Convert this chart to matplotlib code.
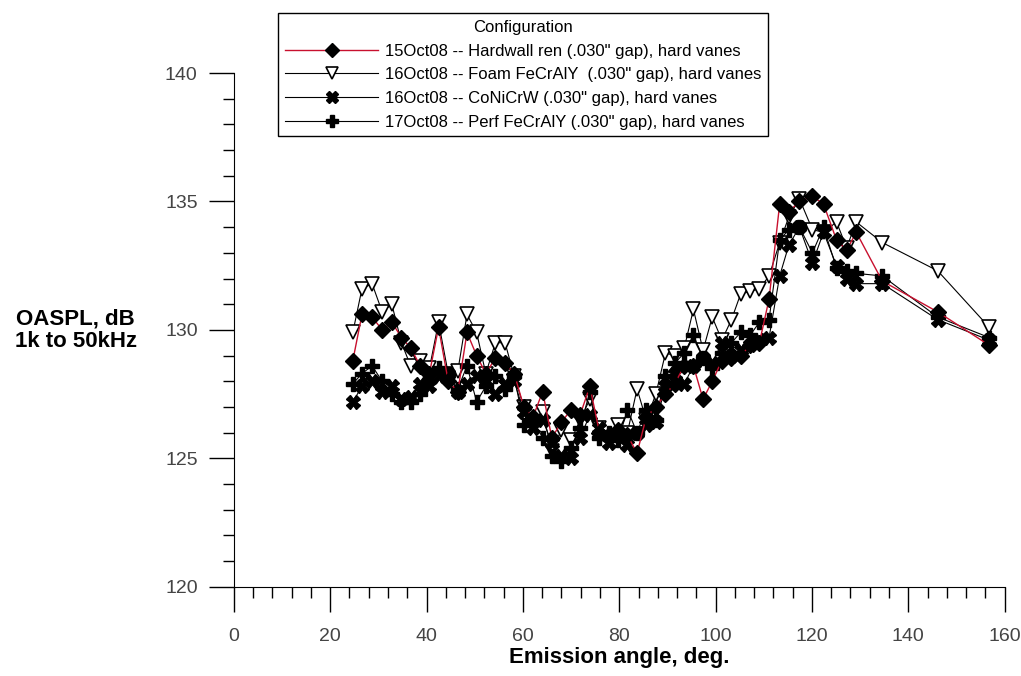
import matplotlib
matplotlib.use("Agg")
import matplotlib.pyplot as plt
from matplotlib.ticker import MultipleLocator

plt.rcParams["font.family"] = ["Liberation Sans", "DejaVu Sans"]

# emission angles (deg) shared by all runs
angles = [24.7, 26.6, 28.7, 30.8, 32.8, 34.8, 36.7, 38.7, 40.6, 42.5,
          44.5, 46.5, 48.4, 50.4, 52.3, 54.3, 56.3, 58.2, 60.2, 62.1,
          64.1, 66.0, 68.0, 70.0, 71.9, 73.9, 75.9, 77.8, 79.8, 81.7,
          83.7, 85.6, 87.6, 89.6, 91.5, 93.5, 95.4, 97.4, 99.3, 101.3,
          103.3, 105.2, 107.2, 109.1, 111.1, 113.3, 115.2, 117.4, 120.1, 122.4,
          125.1, 127.2, 129.2, 134.6, 146.1, 156.8]

hardwall = [128.8, 130.6, 130.5, 130.0, 130.3, 129.7, 129.3, 128.6, 128.3, 130.1,
            128.0, 127.6, 129.9, 129.0, 128.3, 128.9, 128.7, 128.3, 127.0, 126.6,
            127.6, 125.8, 126.4, 126.9, 126.7, 127.8, 126.0, 125.9, 126.1, 125.9,
            125.2, 126.6, 127.0, 127.5, 127.9, 128.6, 128.6, 127.3, 128.0, 128.8,
            128.9, 129.0, 129.4, 129.5, 131.2, 134.9, 134.6, 135.0, 135.2, 134.9,
            133.5, 133.1, 133.8, 131.9, 130.7, 129.4]

foam = [129.9, 131.6, 131.8, 130.7, 131.0, 129.5, 128.6, 128.8, 128.5, 130.3,
        128.3, 128.4, 130.6, 129.9, 128.3, 129.5, 129.5, 128.2, 127.0, 126.4,
        126.8, 125.3, 126.1, 125.7, 126.5, 127.3, 126.2, 125.8, 126.3, 126.0,
        127.7, 126.5, 127.5, 129.1, 129.0, 129.3, 130.8, 129.2, 130.5, 129.6,
        130.4, 131.4, 131.5, 131.6, 132.1, 133.4, 134.4, 135.1, 133.9, 133.8,
        134.2, 133.2, 134.2, 133.4, 132.3, 130.1]

conicrw = [127.2, 127.8, 128.0, 127.6, 127.8, 127.3, 127.4, 127.9, 127.8, 128.2,
           128.3, 127.6, 127.9, 128.2, 128.0, 127.5, 127.9, 128.0, 126.8, 126.2,
           126.5, 125.6, 125.1, 125.0, 125.8, 126.7, 126.2, 125.6, 126.0, 125.5,
           126.0, 126.3, 126.4, 127.8, 128.3, 127.9, 128.6, 128.9, 128.7, 129.5,
           129.0, 129.2, 129.4, 129.6, 129.7, 132.1, 133.3, 134.0, 132.6, 133.8,
           132.5, 132.0, 131.8, 131.8, 130.4, 129.6]

perf = [127.9, 128.3, 128.6, 128.0, 127.5, 127.2, 127.2, 127.5, 128.0, 128.5,
        128.3, 127.7, 128.6, 127.2, 127.8, 128.2, 127.7, 128.2, 126.3, 126.5,
        125.8, 125.1, 124.9, 125.4, 126.2, 127.6, 125.8, 126.0, 125.7, 126.9,
        126.0, 126.9, 126.5, 128.2, 128.7, 129.1, 129.8, 128.9, 128.5, 129.1,
        129.5, 129.9, 129.8, 130.3, 130.4, 133.5, 133.9, 134.0, 133.0, 134.0,
        132.4, 132.3, 132.2, 132.1, 130.5, 129.7]

labels = ["15Oct08 -- Hardwall ren (.030\" gap), hard vanes",
          "16Oct08 -- Foam FeCrAlY  (.030\" gap), hard vanes",
          "16Oct08 -- CoNiCrW (.030\" gap), hard vanes",
          "17Oct08 -- Perf FeCrAlY (.030\" gap), hard vanes"]

fig = plt.figure(figsize=(10.21, 6.76), dpi=100)
ax = fig.add_axes([0.229, 0.132, 0.755, 0.760])

ax.plot(angles, hardwall, color="#c8102e", lw=1, marker="D", ms=8,
        mfc="black", mec="black", label=labels[0], zorder=4)
ax.plot(angles, foam, color="black", lw=0.8, marker="v", ms=10,
        mfc="white", mec="black", mew=1.2, label=labels[1], zorder=3)
ax.plot(angles, conicrw, color="black", lw=0.8, marker="X", ms=10,
        mfc="black", mec="black", label=labels[2], zorder=3)
ax.plot(angles, perf, color="black", lw=0.8, marker="P", ms=10,
        mfc="black", mec="black", label=labels[3], zorder=3)

ax.set_xlim(0, 160)
ax.set_ylim(120, 140)
ax.xaxis.set_major_locator(MultipleLocator(20))
ax.xaxis.set_minor_locator(MultipleLocator(4))
ax.yaxis.set_major_locator(MultipleLocator(5))
ax.yaxis.set_minor_locator(MultipleLocator(1))
ax.tick_params(which="major", length=18, width=1, direction="out",
               labelsize=14, labelcolor="#444444", pad=8)
ax.tick_params(axis="x", which="major", pad=12)
ax.tick_params(which="minor", length=8, width=1, direction="out")
for s in ["top", "right"]:
    ax.spines[s].set_visible(False)
ax.spines["left"].set_bounds(120, 140)
ax.spines["bottom"].set_bounds(0, 160)

ax.set_xlabel("Emission angle, deg.", fontsize=16, fontweight="bold", labelpad=1)
fig.text(0.074, 0.512, "OASPL, dB\n1k to 50kHz", fontsize=16, fontweight="bold",
         ha="center", va="center", linespacing=1.1)

leg = fig.legend(loc="upper left", bbox_to_anchor=(270 / 1021, 1 - 5 / 676),
                 title="Configuration", fontsize=12, title_fontsize=12,
                 handlelength=5.6, handletextpad=0.4, labelspacing=0.52,
                 borderpad=0.4, markerscale=0.85,
                 fancybox=False, framealpha=1, edgecolor="black")
leg.get_frame().set_linewidth(1)
leg.set_zorder(10)

fig.savefig("out.png", dpi=100)
